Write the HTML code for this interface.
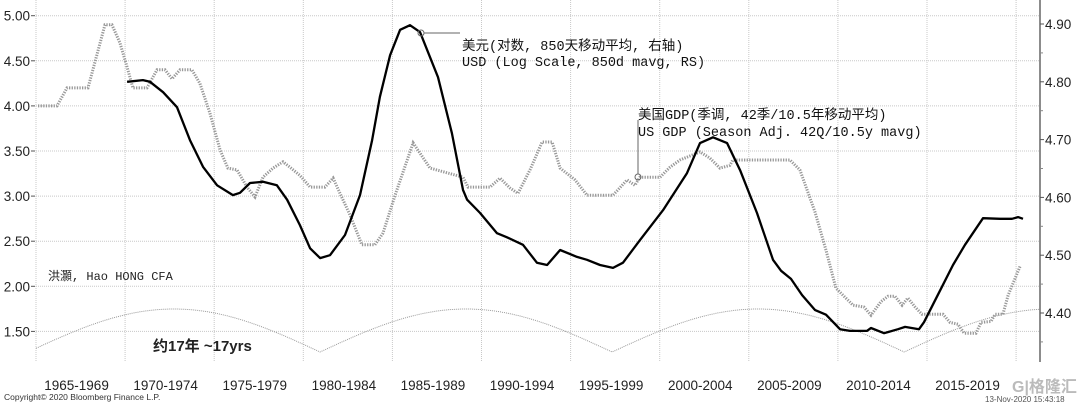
<!DOCTYPE html>
<html><head><meta charset="utf-8">
<style>
html,body{margin:0;padding:0;background:#fff;}
svg{display:block;}
text{font-family:"Liberation Sans","Noto Sans CJK SC",sans-serif;}
.mono{font-family:"Liberation Mono","Noto Sans CJK SC",monospace;}
</style></head>
<body>
<svg id="chart" width="1080" height="404" viewBox="0 0 1080 404" xmlns="http://www.w3.org/2000/svg">
<g id="grid"></g>
<g id="arcs"></g>
<g id="series"></g>
<g id="axes"></g>
<g>
  <circle cx="421" cy="33" r="3" fill="none" stroke="#666" stroke-width="1"/>
  <line x1="424" y1="33" x2="460" y2="33" stroke="#666" stroke-width="1"/>
  <text class="mono" x="462" y="50" font-size="13.5" fill="#111">美元(对数, 850天移动平均, 右轴)</text>
  <text class="mono" x="462" y="66" font-size="13.5" fill="#111">USD (Log Scale, 850d mavg, RS)</text>
</g>
<g>
  <circle cx="638" cy="177" r="3" fill="none" stroke="#666" stroke-width="1"/>
  <line x1="638" y1="174" x2="638" y2="120" stroke="#666" stroke-width="1"/>
  <text class="mono" x="638" y="119" font-size="13.5" fill="#111">美国GDP(季调, 42季/10.5年移动平均)</text>
  <text class="mono" x="638" y="136" font-size="13.5" fill="#111">US GDP (Season Adj. 42Q/10.5y mavg)</text>
</g>
<text class="mono" x="48" y="280" font-size="12" fill="#222">洪灝, Hao HONG CFA</text>
<text x="153" y="351" font-size="15" font-weight="bold" fill="#222">约17年 ~17yrs</text>
<text x="4" y="400" font-size="8.5" fill="#333">Copyright© 2020 Bloomberg Finance L.P.</text>
<text x="985" y="402" font-size="8" fill="#555">13-Nov-2020 15:43:18</text>
<text x="1012" y="392" font-size="16" fill="#bbb" font-weight="bold">G|格隆汇</text>
</svg>
<script>
const usdYears=[1970.11,1971.0,1971.4,1972.13,1972.91,1973.64,1974.37,1975.16,1976.05,1976.45,1977.01,1977.74,1978.52,1979.09,1979.81,1980.38,1980.94,1981.5,1982.34,1983.18,1983.86,1984.3,1984.87,1985.43,1985.99,1986.55,1987.56,1988.34,1988.96,1989.19,1989.92,1990.87,1991.43,1992.33,1993.11,1993.68,1994.41,1995.36,1995.92,1996.65,1997.38,1997.94,1998.89,2000.19,2001.53,2002.26,2002.99,2003.78,2004.51,2005.46,2006.36,2006.81,2007.37,2007.99,2008.72,2009.33,2010.12,2010.68,2011.63,2011.86,2012.59,2013.37,2013.77,2014.55,2014.83,2015.67,2016.46,2017.13,2018.14,2019.1,2019.77,2020.11,2020.39];
const usdValues=[4.800,4.803,4.800,4.782,4.756,4.699,4.653,4.621,4.604,4.608,4.625,4.627,4.621,4.596,4.552,4.512,4.495,4.500,4.535,4.604,4.699,4.774,4.846,4.890,4.898,4.886,4.808,4.711,4.613,4.596,4.573,4.538,4.531,4.518,4.487,4.483,4.509,4.497,4.492,4.483,4.478,4.487,4.526,4.578,4.642,4.694,4.704,4.694,4.647,4.573,4.492,4.473,4.459,4.431,4.405,4.397,4.372,4.369,4.369,4.374,4.365,4.372,4.376,4.372,4.384,4.435,4.483,4.518,4.564,4.563,4.563,4.566,4.563];
const gdpYears=[1965.11,1966.18,1966.74,1967.92,1968.87,1969.26,1969.71,1970.11,1970.44,1971.23,1971.79,1972.24,1972.63,1973.08,1973.75,1974.2,1974.76,1975.33,1975.77,1976.28,1976.84,1977.29,1977.74,1978.3,1978.86,1979.25,1979.81,1980.38,1981.22,1981.67,1982.06,1982.62,1983.29,1984.02,1984.47,1985.15,1986.16,1987.11,1988.96,1989.24,1990.48,1991.04,1991.6,1992.05,1992.72,1993.4,1993.96,1994.41,1995.25,1995.92,1997.38,1998.17,1998.61,1998.89,2000.02,2000.58,2001.14,2002.26,2002.82,2003.38,2003.94,2004.11,2007.31,2007.87,2008.72,2009.33,2009.89,2010.29,2010.85,2011.46,2011.86,2012.42,2012.81,2013.2,2013.6,2013.93,2014.33,2014.72,2015.9,2016.29,2016.74,2017.08,2017.75,2018.03,2018.59,2018.82,2019.26,2019.55,2020.22];
const gdpValues=[4.0,4.0,4.2,4.2,4.9,4.9,4.7,4.43,4.2,4.2,4.4,4.4,4.3,4.4,4.4,4.25,3.92,3.51,3.31,3.29,3.1,2.99,3.21,3.31,3.38,3.32,3.23,3.1,3.1,3.2,3.03,2.79,2.46,2.46,2.59,3.01,3.59,3.31,3.21,3.1,3.1,3.2,3.09,3.03,3.29,3.6,3.6,3.31,3.18,3.01,3.01,3.18,3.12,3.21,3.21,3.32,3.4,3.49,3.42,3.31,3.34,3.4,3.4,3.29,2.82,2.4,1.98,1.9,1.79,1.77,1.68,1.83,1.89,1.89,1.79,1.87,1.77,1.69,1.69,1.6,1.58,1.48,1.48,1.6,1.61,1.69,1.69,1.9,2.22];
const leftTicks=[5.00,4.50,4.00,3.50,3.00,2.50,2.00,1.50];
const rightTicks=[4.90,4.80,4.70,4.60,4.50,4.40];
const periodLabels=["1965-1969","1970-1974","1975-1979","1980-1984","1985-1989","1990-1994","1995-1999","2000-2004","2005-2009","2010-2014","2015-2019"];
const periodStarts=[1965,1970,1975,1980,1985,1990,1995,2000,2005,2010,2015,2020];
const cycleTroughs=[1980.94,1997.33,2013.72];

const NS="http://www.w3.org/2000/svg";
const X0=36,PX_PER_YEAR=17.82,PLOT_BOTTOM=362,RIGHT_AXIS=1040;
const xs=y=>X0+(y-1965)*PX_PER_YEAR;
const yl=v=>15.7+(5-v)*90.2;
const yr=v=>24+(4.90-v)*578;
function mk(tag,attrs,parent){const e=document.createElementNS(NS,tag);for(const k in attrs)e.setAttribute(k,attrs[k]);parent.appendChild(e);return e;}
const grid=document.getElementById('grid'),axes=document.getElementById('axes'),series=document.getElementById('series'),arcs=document.getElementById('arcs');

periodStarts.forEach(p=>{
  const l=mk('line',{x1:xs(p),x2:xs(p),y1:0,y2:PLOT_BOTTOM,stroke:'#c8c8c8','stroke-width':1,'stroke-dasharray':'1,1'},grid);
  
  
});
leftTicks.forEach(v=>{
  const l=mk('line',{x1:X0,x2:RIGHT_AXIS,y1:yl(v),y2:yl(v),stroke:'#c8c8c8','stroke-width':1,'stroke-dasharray':'1,1'},grid);
  
  
  const t=mk('text',{x:30,y:yl(v)+5,'text-anchor':'end','font-size':13.5,fill:'#222'},axes);
  t.textContent=v.toFixed(2);
  
  
  mk('line',{x1:31,x2:35,y1:yl(v),y2:yl(v),stroke:'#555','stroke-width':1},axes);
});
mk('line',{x1:RIGHT_AXIS,x2:RIGHT_AXIS,y1:0,y2:PLOT_BOTTOM,stroke:'#666','stroke-width':1.5},axes);
rightTicks.forEach(v=>{
  mk('line',{x1:RIGHT_AXIS,x2:RIGHT_AXIS+4,y1:yr(v),y2:yr(v),stroke:'#555','stroke-width':1},axes);
  mk('line',{x1:RIGHT_AXIS,x2:RIGHT_AXIS+3,y1:yr(v-0.05),y2:yr(v-0.05),stroke:'#888','stroke-width':1},axes);
  const t=mk('text',{x:RIGHT_AXIS+5,y:yr(v)+5,'font-size':13.5,fill:'#222'},axes);
  t.textContent=v.toFixed(2);
  
  
});
periodLabels.forEach((s,i)=>{
  const t=mk('text',{x:(xs(periodStarts[i])+xs(periodStarts[i+1]))/2-4,y:390,'text-anchor':'middle','font-size':13.5,fill:'#222'},axes);
  t.textContent=s;
  
  
});

(function(){
  const period=cycleTroughs[1]-cycleTroughs[0];
  let d='';
  for(let px=X0;px<=RIGHT_AXIS;px+=2){
    const yrv=1965+(px-X0)/PX_PER_YEAR;
    const ph=Math.PI*(yrv-cycleTroughs[0])/period;
    const y=352-43*Math.abs(Math.sin(ph));
    d+=(d?'L':'M')+px+','+y.toFixed(1);
  }
  const p=mk('path',{d:d,fill:'none',stroke:'#999','stroke-width':1,'stroke-dasharray':'1,1'},arcs);
  
  
})();

function linePath(xsArr,vals,yf){return xsArr.map((y,i)=>(i?'L':'M')+xs(y).toFixed(1)+','+yf(vals[i]).toFixed(1)).join('');}
const g=mk('path',{d:linePath(gdpYears,gdpValues,yl),fill:'none',stroke:'#999','stroke-width':3,'stroke-dasharray':'1.3,1.3'},series);


const u=mk('path',{d:linePath(usdYears,usdValues,yr),fill:'none',stroke:'#000','stroke-width':2.3,'stroke-linejoin':'round'},series);


</script>
</body></html>
